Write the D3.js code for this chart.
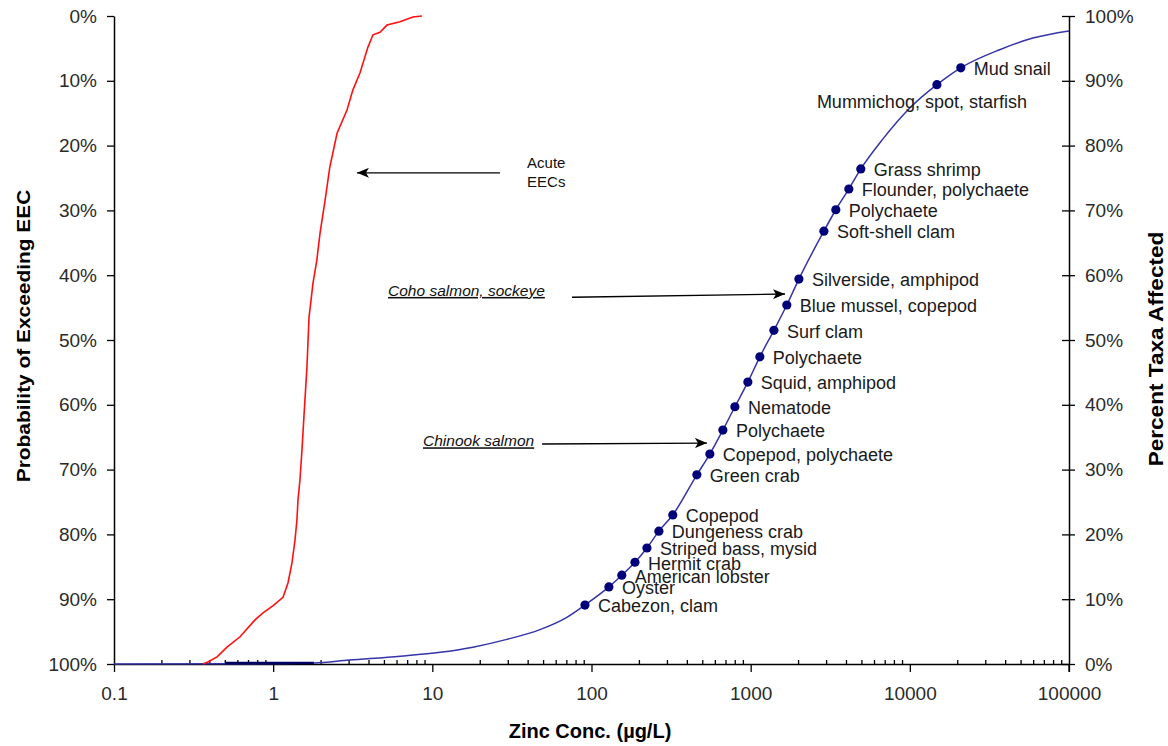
<!DOCTYPE html>
<html><head><meta charset="utf-8">
<script src="https://cdn.jsdelivr.net/npm/d3@7"></script>
<style>
html,body{margin:0;padding:0;background:#fff;}
svg text{font-family:"Liberation Sans",Arial,sans-serif;}
</style></head><body>
<svg id="chart" width="1168" height="746"></svg>
<script>
// ---------- data ----------
const xTicks = [0.1, 1, 10, 100, 1000, 10000, 100000];
const xTickLabels = ["0.1", "1", "10", "100", "1000", "10000", "100000"];
const yTicks = [0, 10, 20, 30, 40, 50, 60, 70, 80, 90, 100];
const leftTickLabels = ["0%", "10%", "20%", "30%", "40%", "50%", "60%", "70%", "80%", "90%", "100%"];
const rightTickLabels = ["0%", "10%", "20%", "30%", "40%", "50%", "60%", "70%", "80%", "90%", "100%"];

// Acute EEC exceedance curve (red): concentration (µg/L), probability of exceeding (%)
const eecConc = [0.362, 0.389, 0.444, 0.513, 0.619, 0.769, 0.863, 1.0, 1.153, 1.239, 1.313, 1.371, 1.41, 1.432, 1.473, 1.517, 1.56, 1.63, 1.68, 1.78, 1.88, 1.97, 2.12, 2.27, 2.52, 2.91, 3.17, 3.51, 3.94, 4.24, 4.69, 5.19, 6.26, 7.55, 8.6];
const eecExceed = [100, 99.7, 98.9, 97.4, 95.8, 93.2, 92.1, 91.0, 89.7, 87.5, 84.4, 80.9, 77.8, 74.7, 71.6, 67.0, 61.9, 54.2, 46.5, 41.2, 37.7, 33.5, 28.4, 23.3, 18.1, 14.5, 11.4, 8.8, 4.8, 2.9, 2.5, 1.4, 0.9, 0.15, 0];

// Species sensitivity curve (blue): concentration (µg/L), percent taxa affected
const ssdConc = [0.1, 0.5, 1.8, 3.0, 6.3, 11.2, 18, 29.4, 47.4, 70, 91, 128.6, 155, 187.5, 223, 265, 324, 459, 554, 669, 796, 960, 1142, 1400, 1687, 2009, 2884, 3428, 4138, 4920, 6761, 10000, 14790, 20900, 36700, 59300, 100000];
const ssdPct = [0, 0.02, 0.15, 0.6, 1.2, 1.8, 2.6, 3.8, 5.3, 7.2, 9.1, 11.9, 13.7, 15.7, 17.9, 20.5, 23.0, 29.2, 32.4, 36.1, 39.7, 43.5, 47.4, 51.5, 55.4, 59.4, 66.8, 70.1, 73.3, 76.4, 81.0, 85.8, 89.4, 92.0, 94.8, 96.6, 97.7];

// Low-concentration segment along the baseline
const lowConc = [0.5, 1.8];
const lowPct = [0, 0];

// Taxa points on the curve
const taxaNames = ["Cabezon, clam", "Oyster", "American lobster", "Hermit crab", "Striped bass, mysid", "Dungeness crab", "Copepod", "Green crab", "Copepod, polychaete", "Polychaete", "Nematode", "Squid, amphipod", "Polychaete", "Surf clam", "Blue mussel, copepod", "Silverside, amphipod", "Soft-shell clam", "Polychaete", "Flounder, polychaete", "Grass shrimp", "Mummichog, spot, starfish", "Mud snail"];
const taxaConc = [91, 128.6, 155, 187.5, 223, 265, 324, 459, 554, 669, 796, 960, 1142, 1400, 1687, 2009, 2884, 3428, 4138, 4920, 14790, 20900];
const taxaPct = [9.1, 11.9, 13.7, 15.7, 17.9, 20.5, 23.0, 29.2, 32.4, 36.1, 39.7, 43.5, 47.4, 51.5, 55.4, 59.4, 66.8, 70.1, 73.3, 76.4, 89.4, 92.0];

// Annotation texts
const acuteText = ["Acute", "EECs"];
const cohoText = "Coho salmon, sockeye";
const chinookText = "Chinook salmon";

// ---------- layout ----------
const svg = d3.select("#chart");
const L = 114, R = 1069, T = 16, B = 664;
const x = d3.scaleLog().domain([0.1, 100000]).range([L, R]);
const yL = d3.scaleLinear().domain([0, 100]).range([T, B]);   // probability of exceeding
const yR = d3.scaleLinear().domain([0, 100]).range([B, T]);   // percent taxa affected

const tickFont = "19px", tickColor = "#2a2a2a";

// X axis
const gx = svg.append("g").attr("transform", `translate(0,${B})`)
  .call(d3.axisBottom(x).tickValues(xTicks).tickFormat((d, i) => xTickLabels[i])
    .tickSizeInner(8).tickSizeOuter(0).tickPadding(15));
// minor ticks (inside)
const minor = [];
xTicks.slice(0, -1).forEach(d => { for (let k = 2; k <= 9; k++) minor.push(d * k); });
gx.selectAll(".minor").data(minor).enter().append("line")
  .attr("x1", d => x(d)).attr("x2", d => x(d)).attr("y1", 0).attr("y2", -4)
  .attr("stroke", "#000").attr("stroke-width", 1.3);

// Left axis
const gl = svg.append("g").attr("transform", `translate(${L},0)`)
  .call(d3.axisLeft(yL).tickValues(yTicks).tickFormat((d, i) => leftTickLabels[i])
    .tickSizeInner(7).tickSizeOuter(0).tickPadding(10));

// Right axis
const gr = svg.append("g").attr("transform", `translate(${R},0)`)
  .call(d3.axisRight(yR).tickValues(yTicks).tickFormat((d, i) => rightTickLabels[i])
    .tickSizeInner(6).tickSizeOuter(0).tickPadding(10));
gr.selectAll(".tick").append("line").attr("x1", -7).attr("x2", 0).attr("stroke", "#000").attr("stroke-width", 1.3);
gr.append("line").attr("x1", 0).attr("x2", 0).attr("y1", B).attr("y2", B + 8).attr("stroke", "#000").attr("stroke-width", 1.3);

[gx, gl, gr].forEach(g => {
  g.select(".domain").attr("stroke", "#000").attr("stroke-width", 1.5);
  g.selectAll(".tick line").attr("stroke", "#000").attr("stroke-width", 1.3);
  g.selectAll(".tick text").attr("fill", tickColor).style("font-size", tickFont)
    .style("font-family", '"Liberation Sans",Arial,sans-serif');
});

// ---------- series ----------
const ssd = ssdConc.map((c, i) => [c, ssdPct[i]]);
svg.append("path").datum(ssd)
  .attr("fill", "none").attr("stroke", "#3434a8").attr("stroke-width", 1.5)
  .attr("d", d3.line().x(d => x(d[0])).y(d => yR(d[1])).curve(d3.curveMonotoneX));

const low = lowConc.map((c, i) => [c, lowPct[i]]);
svg.append("path").datum(low)
  .attr("fill", "none").attr("stroke", "#000060").attr("stroke-width", 2.6)
  .attr("d", d3.line().x(d => x(d[0])).y(d => yR(d[1]) - 1));

const eec = eecConc.map((c, i) => [c, eecExceed[i]]);
svg.append("path").datum(eec)
  .attr("fill", "none").attr("stroke", "#ff1010").attr("stroke-width", 1.6)
  .attr("d", d3.line().x(d => x(d[0])).y(d => yL(d[1])));

// taxa points
const taxa = taxaNames.map((n, i) => ({ name: n, c: taxaConc[i], p: taxaPct[i] }));
svg.append("g").selectAll("circle").data(taxa).enter().append("circle")
  .attr("cx", d => x(d.c)).attr("cy", d => yR(d.p)).attr("r", 4.6).attr("fill", "#00007a");

// taxa labels
svg.append("g").selectAll("text").data(taxa).enter().append("text")
  .attr("x", d => d.name.startsWith("Mummichog") ? x(d.c) - 120 : x(d.c) + 13)
  .attr("y", d => d.name.startsWith("Mummichog") ? yR(d.p) + 17 : yR(d.p) + 1)
  .attr("dy", "0.35em").attr("fill", "#1a1a1a").style("font-size", "18px")
  .text(d => d.name);

// ---------- annotations ----------
const defs = svg.append("defs");
defs.append("marker").attr("id", "ah").attr("viewBox", "0 0 12 10").attr("refX", 12).attr("refY", 5)
  .attr("markerWidth", 12).attr("markerHeight", 10).attr("markerUnits", "userSpaceOnUse").attr("orient", "auto")
  .append("path").attr("d", "M0,0 L12,5 L0,10 L3,5 Z").attr("fill", "#000");

function arrow(c0, p0, c1, p1, yScale) {
  svg.append("line").attr("x1", x(c0)).attr("y1", yScale(p0)).attr("x2", x(c1)).attr("y2", yScale(p1))
    .attr("stroke", "#000").attr("stroke-width", 1.3).attr("marker-end", "url(#ah)");
}
// Acute EECs
arrow(26.6, 24.2, 3.36, 24.2, yL);
svg.append("text").attr("x", x(39.4)).attr("y", yL(23.5)).style("font-size", "15px").attr("fill", "#111").text(acuteText[0]);
svg.append("text").attr("x", x(39.4)).attr("y", yL(26.4)).style("font-size", "15px").attr("fill", "#111").text(acuteText[1]);
// Coho salmon, sockeye
svg.append("text").attr("x", x(5.27)).attr("y", yR(56.8)).style("font-size", "15.5px").style("font-style", "italic")
  .style("text-decoration", "underline").attr("fill", "#111").text(cohoText);
arrow(75.4, 56.6, 1643, 57.1, yR);
// Chinook salmon
svg.append("text").attr("x", x(8.74)).attr("y", yR(33.6)).style("font-size", "15.5px").style("font-style", "italic")
  .style("text-decoration", "underline").attr("fill", "#111").text(chinookText);
arrow(48.9, 33.95, 531.6, 34.1, yR);

// ---------- axis titles ----------
svg.append("text").attr("transform", "translate(590,738)").attr("text-anchor", "middle")
  .style("font-size", "20px").style("font-weight", "bold").attr("fill", "#000").text("Zinc Conc. (µg/L)");
svg.append("text").attr("transform", "translate(30,336) rotate(-90) scale(1.13,1)").attr("text-anchor", "middle")
  .style("font-size", "18.5px").style("font-weight", "bold").attr("fill", "#000").text("Probability of Exceeding EEC");
svg.append("text").attr("transform", "translate(1163,349) rotate(-90) scale(1.13,1)").attr("text-anchor", "middle")
  .style("font-size", "20px").style("font-weight", "bold").attr("fill", "#000").text("Percent Taxa Affected");
</script>
</body></html>
